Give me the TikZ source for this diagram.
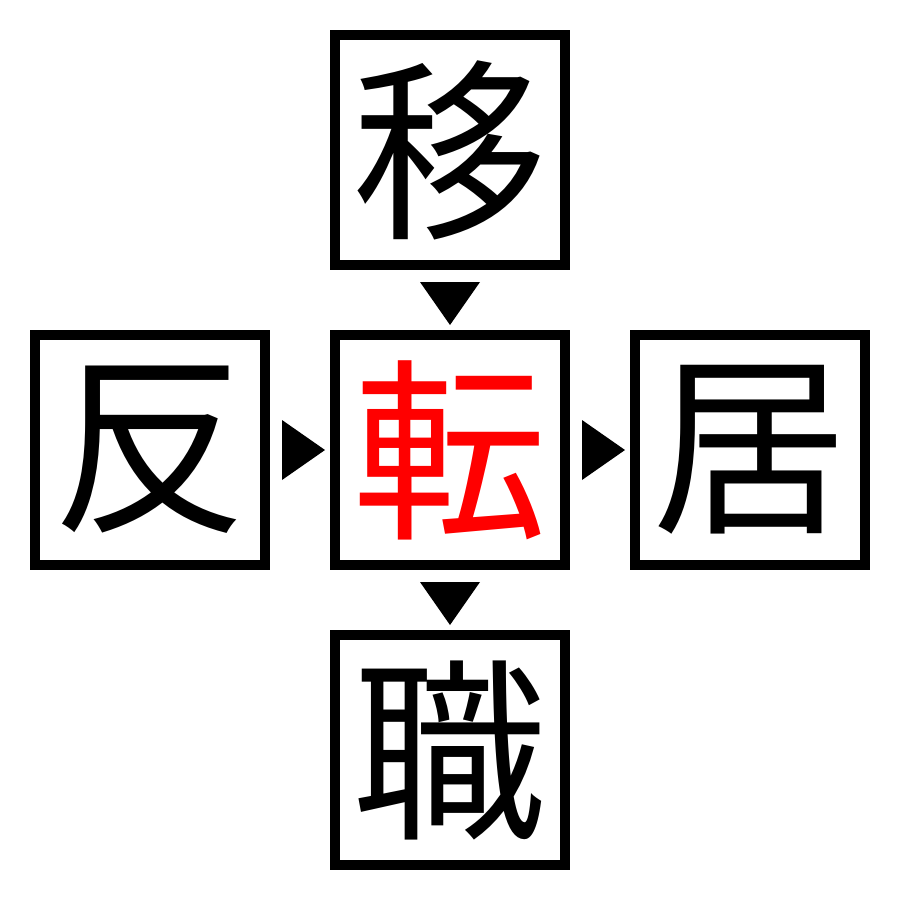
\documentclass[tikz,border=0pt]{standalone}
\usepackage{fontspec}
\newfontfamily\cjk{Noto Sans CJK JP}
\begin{document}
\begin{tikzpicture}[x=1pt,y=-1pt,
  kbox/.style={draw=black,line width=10pt,minimum size=230pt,inner sep=0pt,
    font=\cjk\fontsize{195pt}{195pt}\selectfont},
  tri/.style={fill=black}]
\useasboundingbox (0,0) rectangle (900,900);
\node[kbox] (t) at (450,150) {移};
\node[kbox] (l) at (150,450) {反};
\node[kbox,text=red] (c) at (450,450) {転};
\node[kbox] (r) at (750,450) {居};
\node[kbox] (b) at (450,750) {職};
\fill[tri] (420,282) -- (480,282) -- (450,325) -- cycle;
\fill[tri] (420,582) -- (480,582) -- (450,625) -- cycle;
\fill[tri] (282,420) -- (282,480) -- (325,450) -- cycle;
\fill[tri] (582,420) -- (582,480) -- (625,450) -- cycle;
\end{tikzpicture}
\end{document}
